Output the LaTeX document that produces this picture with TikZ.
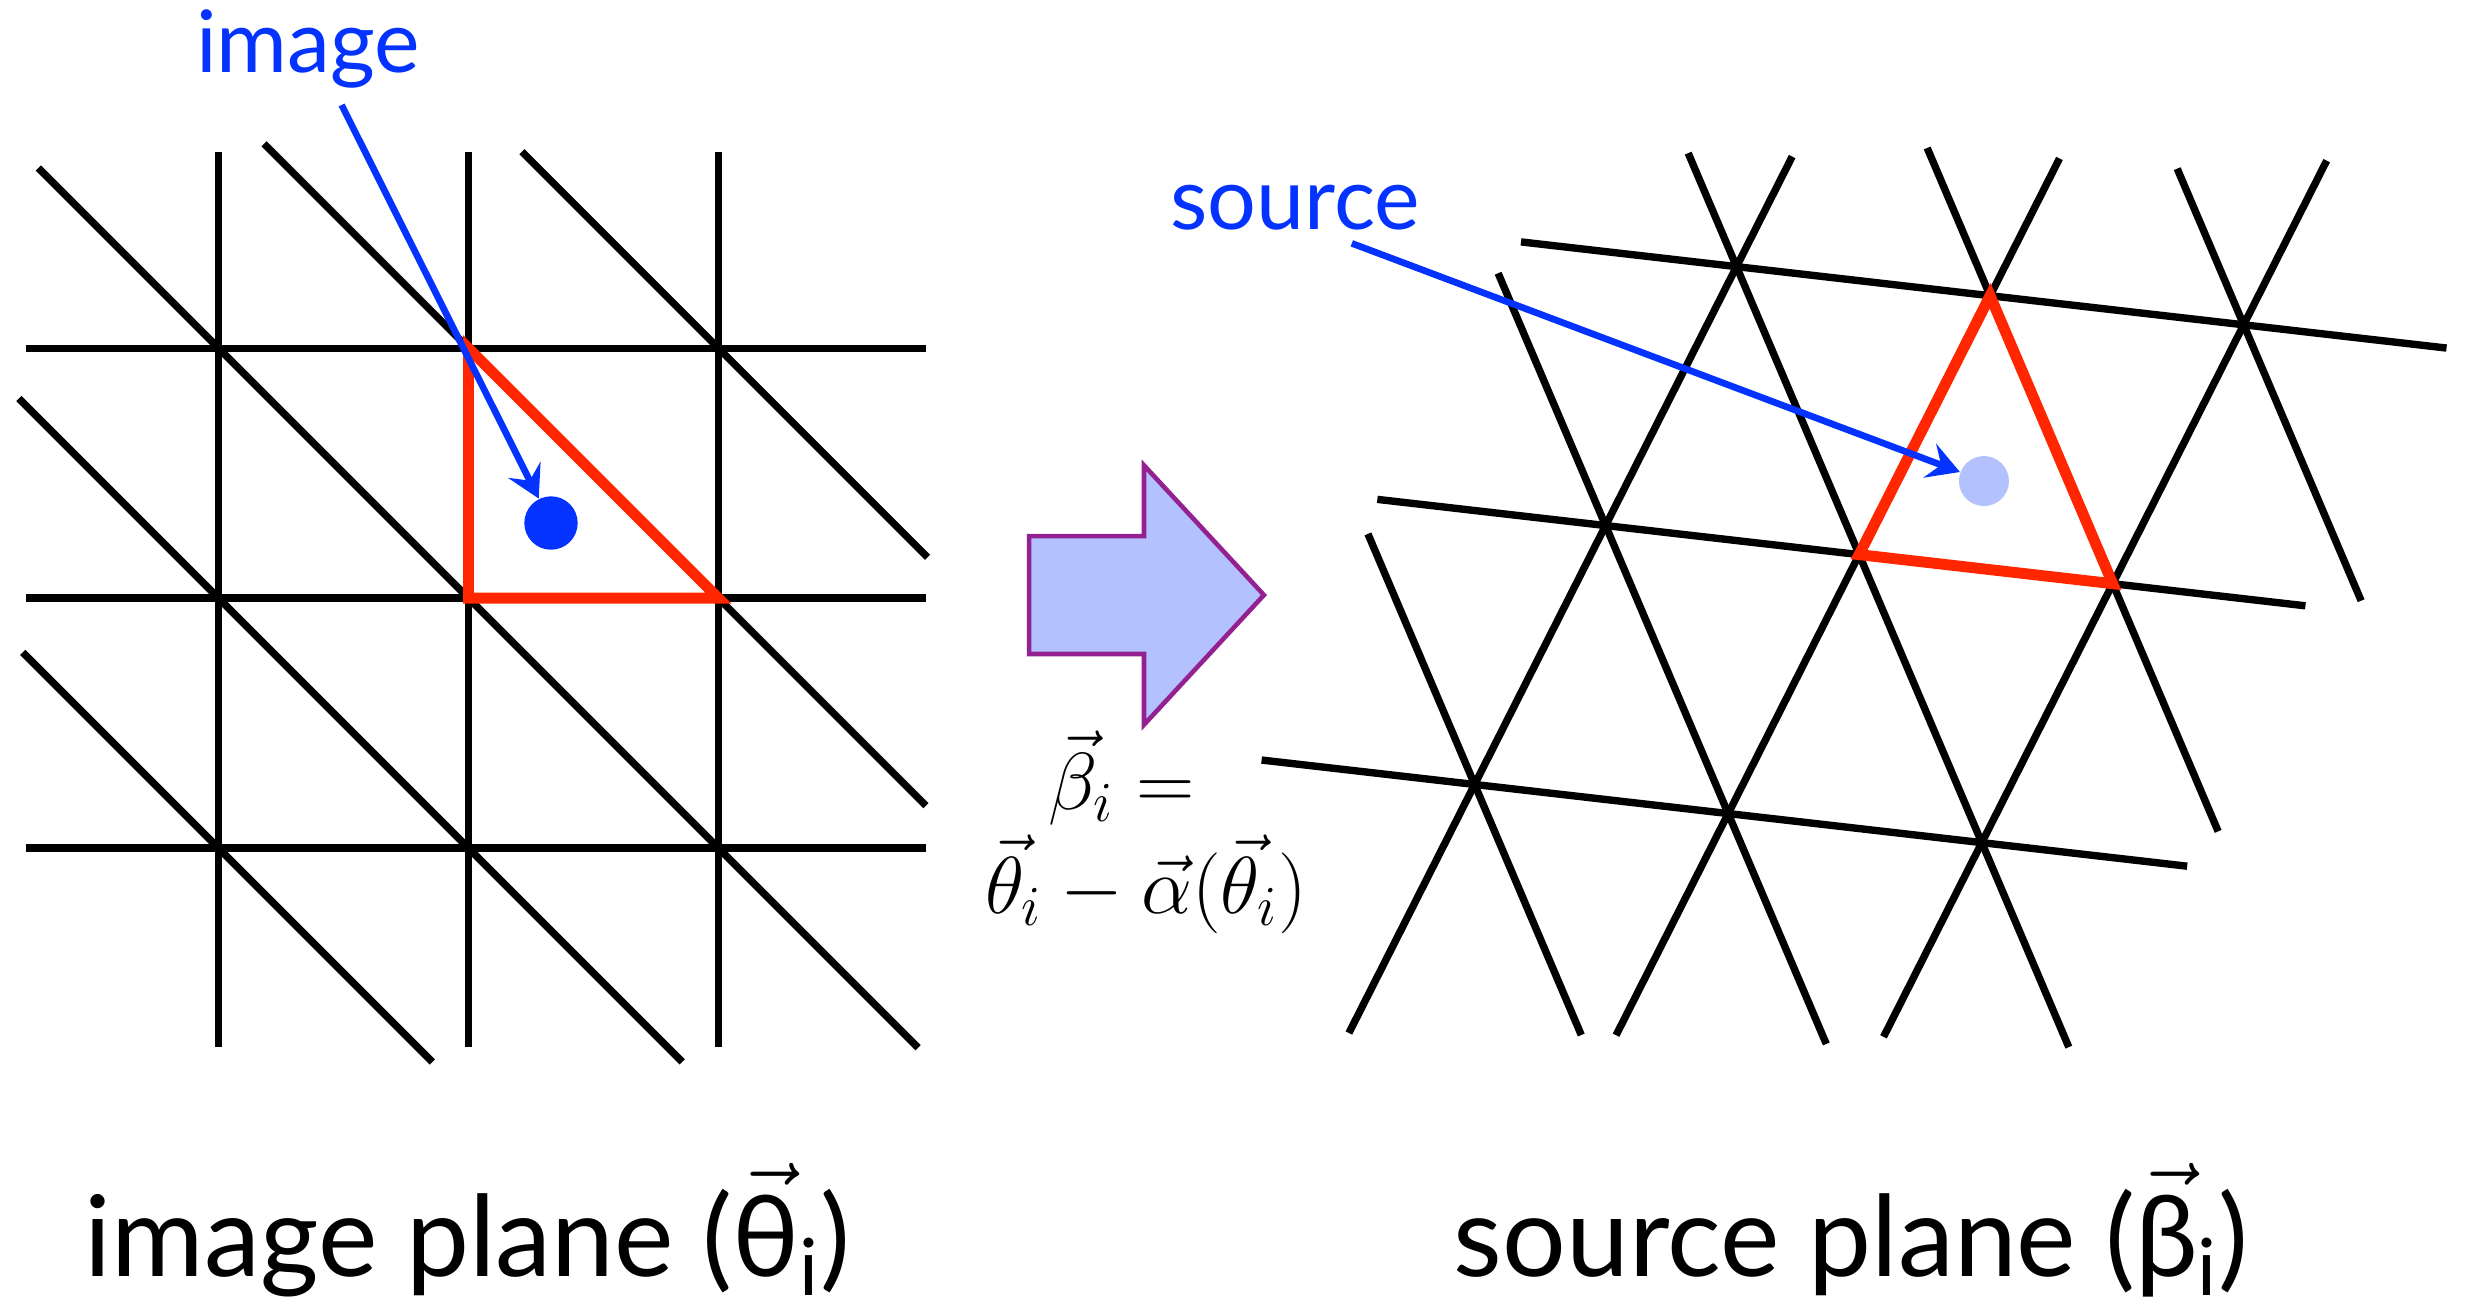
\RequirePackage{fix-cm}
\documentclass[tikz,border=0pt]{standalone}
\usepackage{amsmath}
\usepackage[no-math]{fontspec}
\setmainfont{Lato}
\usepackage{tikz}
\usetikzlibrary{arrows.meta,calc}

\definecolor{keyblue}{HTML}{0433FF}
\definecolor{keyred}{HTML}{FF2600}
\definecolor{palefill}{HTML}{B3C1FF}
\definecolor{arrowedge}{HTML}{942192}

\begin{document}
\begin{tikzpicture}[x=0.01572cm, y=-0.01572cm,
    gridline/.style={line width=2.1pt, black},
    cell/.style={line width=3.1pt, keyred},
    pointer/.style={line width=1.9pt, keyblue, -{Stealth[length=3.2mm,width=3.6mm,inset=1.2mm]}},
    tag/.style={text=keyblue, font=\fontsize{24.5}{28}\selectfont, inner sep=0pt, anchor=base},
    planelabel/.style={font=\fontsize{32}{38}\selectfont, inner sep=0pt, anchor=base},
    eqtext/.style={font=\fontsize{23}{28}\selectfont, inner sep=0pt, anchor=base}]
    \useasboundingbox (0,0) rectangle (1568,836);

    % image plane: square grid cut by diagonals
    \foreach \i in {0,1,2} {
        \foreach \j in {0,1,2}
            \coordinate (g\i\j) at (139+159*\i, 221.5+159*\j);
    }
    \foreach \x in {139,298,457} \draw[gridline] (\x,97) -- (\x,666);
    \foreach \y in {221.5,380.5,539.5} \draw[gridline] (16.5,\y) -- (589,\y);
    \draw[gridline] (24.4,106.9) -- (584,666.5);
    \draw[gridline] (168,91.5) -- (589,512.5);
    \draw[gridline] (332,96.5) -- (590,354.5);
    \draw[gridline] (12,253.5) -- (434,675.5);
    \draw[gridline] (14.5,415) -- (275,675.5);
    \draw[cell] (g10) -- (g11) -- (g21) -- cycle;

    % source plane: sheared triangular grid
    \coordinate (o) at (938,499);
    \foreach \i in {0,1,2} {
        \foreach \j in {0,1,2}
            \coordinate (s\i\j) at ($(o)+\i*(161.3,18.5)+\j*(83.3,-164.7)$);
    }
    \foreach \v/\p/\q in {s02/0.85/2.8, s01/0.9/2.76, s00/0.84/2.81}
        \draw[gridline] ($(\v)-\p*(161.3,18.5)$) -- ($(\v)+\q*(161.3,18.5)$);
    \foreach \v/\p/\q in {s00/0.96/2.425, s10/0.856/2.53, s20/0.75/2.634}
        \draw[gridline] ($(\v)-\p*(83.3,-164.7)$) -- ($(\v)+\q*(83.3,-164.7)$);
    \foreach \v/\p/\q in {s00/0.87/0.87, s01/0.876/1.80, s02/0.394/2.71, s12/0.513/1.86, s22/0.542/0.958}
        \draw[gridline] ($(\v)-\p*(78,183.2)$) -- ($(\v)+\q*(78,183.2)$);
    \draw[cell] (s12) -- (s11) -- (s21) -- cycle;

    % points and their labels
    \node[circle, fill=keyblue, minimum size=0.534cm, inner sep=0pt] (imgdot) at (350.5,332.7) {};
    \node[circle, fill=palefill, minimum size=0.5cm, inner sep=0pt] (srcdot) at (1262,306) {};
    \node[tag] (imglabel) at (196,46.2) {image};
    \node[tag] (srclabel) at (824,146.3) {source};
    \draw[pointer] ($(imglabel.base)+(21.3,20.6)$) -- (imgdot);
    \draw[pointer] ($(srclabel.base)+(35.9,8.5)$) -- (srcdot);

    % mapping arrow
    \draw[arrowedge, fill=palefill, line width=1.3pt] (654.6,341) -- (727.7,341) -- (727.7,296)
        -- (804,378.5) -- (727.7,461) -- (727.7,416) -- (654.6,416) -- cycle;
    \node[eqtext] (lenseqtop) at (713.5,515) {$\vec{\beta}_i =$};
    \node[eqtext] (lenseqbot) at (729,581) {$\vec{\theta}_i - \vec{\alpha}(\vec{\theta}_i)$};

    \node[planelabel] (imgplane) at (297.5,812) {image plane (\ensuremath{\vec{\mbox{θ}}}\textsubscript{i})};
    \node[planelabel] (srcplane) at (1177.5,812) {source plane (\ensuremath{\vec{\mbox{β}}}\textsubscript{i})};
\end{tikzpicture}
\end{document}
